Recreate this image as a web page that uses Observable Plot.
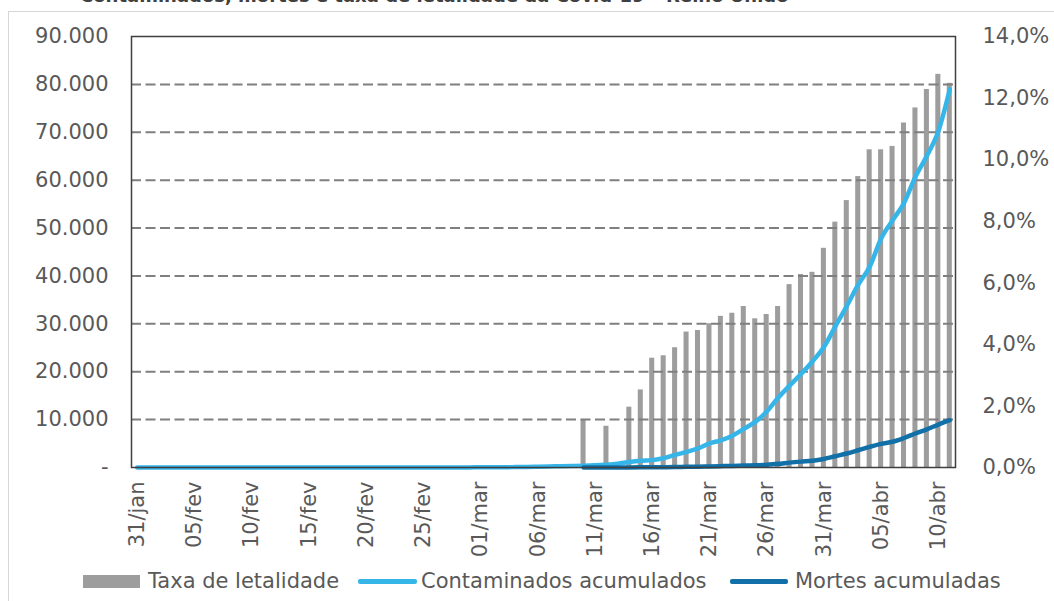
<!DOCTYPE html>
<html><head><meta charset="utf-8">
<script src="https://cdn.jsdelivr.net/npm/d3@7"></script>
<script src="https://cdn.jsdelivr.net/npm/@observablehq/plot@0.6"></script>
<style>
body{margin:0;background:#fff;width:1054px;height:601px;overflow:hidden;position:relative;font-family:"DejaVu Sans",sans-serif;}
#frame{position:absolute;left:8px;top:11px;width:1100px;height:700px;border-left:1.5px solid #d6d6d6;border-top:1.5px solid #d6d6d6;}
#title{position:absolute;left:80px;top:-15px;font-weight:bold;font-size:18px;line-height:22px;color:#404040;white-space:nowrap}
#chart{position:absolute;left:0;top:0}
.sw{position:absolute}
.lt{position:absolute;top:568px;height:26px;line-height:26px;font-size:21px;color:#595959;white-space:nowrap}
</style></head><body>
<div id="frame"></div>
<div id="title">Contaminados, mortes e taxa de letalidade da Covid-19 – Reino Unido</div>
<div id="chart"></div>
<div id="legend"></div>
<script>
const datas = ["31/jan",
"01/fev","02/fev","03/fev","04/fev","05/fev","06/fev","07/fev","08/fev","09/fev","10/fev",
"11/fev","12/fev","13/fev","14/fev","15/fev","16/fev","17/fev","18/fev","19/fev","20/fev",
"21/fev","22/fev","23/fev","24/fev","25/fev","26/fev","27/fev","28/fev","29/fev",
"01/mar","02/mar","03/mar","04/mar","05/mar","06/mar","07/mar","08/mar","09/mar","10/mar",
"11/mar","12/mar","13/mar","14/mar","15/mar","16/mar","17/mar","18/mar","19/mar","20/mar",
"21/mar","22/mar","23/mar","24/mar","25/mar","26/mar","27/mar","28/mar","29/mar","30/mar","31/mar",
"01/abr","02/abr","03/abr","04/abr","05/abr","06/abr","07/abr","08/abr","09/abr","10/abr","11/abr"];

const contaminados = [2,
2,2,2,2,2,3,3,3,3,8,
8,9,9,9,9,9,9,9,9,9,
9,9,13,13,13,13,15,20,23,
36,40,51,85,115,163,206,273,321,373,
456,590,798,1140,1391,1543,1950,2626,3269,3983,
5018,5683,6650,8077,9529,11658,14543,17089,19522,22141,25150,
29474,33718,38168,41903,47806,51608,55242,60733,65077,70200,78991];

const mortes = [null,
null,null,null,null,null,null,null,null,null,null,
null,null,null,null,null,null,null,null,null,null,
null,null,null,null,null,null,null,null,null,
null,null,null,null,null,null,null,null,null,6,
8,8,10,21,35,55,71,104,144,177,
233,281,335,422,465,578,759,1019,1228,1408,1789,
2352,2921,3605,4313,4934,5373,6159,7097,7978,8958,9875];

const taxa = [null,
null,null,null,null,null,null,null,null,null,null,
null,null,null,null,null,null,null,null,null,null,
null,null,null,null,null,null,null,null,null,
null,null,null,null,null,null,null,null,null,1.55,
null,1.34,null,1.96,2.52,3.55,3.63,3.89,4.40,4.45,
4.67,4.91,5.01,5.23,4.83,4.97,5.23,5.94,6.27,6.34,7.12,
7.97,8.67,9.45,10.32,10.32,10.43,11.19,11.68,12.28,12.77,12.48];

const ticksX = ["31/jan","05/fev","10/fev","15/fev","20/fev","25/fev","01/mar","06/mar","11/mar","16/mar","21/mar","26/mar","31/mar","05/abr","10/abr"];
const ticksEsq = [0,10000,20000,30000,40000,50000,60000,70000,80000,90000];
const ticksDir = [0,2,4,6,8,10,12,14];
const maxEsq = 90000, maxDir = 14;

const legenda = ["Taxa de letalidade","Contaminados acumulados","Mortes acumuladas"];
const cores = ["#9d9d9d","#36b5e9","#1170a8"];

const rows = datas.map((d,i)=>({data:d, cont:contaminados[i], mort:mortes[i], taxa:taxa[i]}));
const toEsq = p => p / maxDir * maxEsq;

const chart = Plot.plot({
  width:1054, height:560,
  marginLeft:131, marginRight:99, marginTop:36, marginBottom:93,
  style:{fontFamily:"DejaVu Sans", fontSize:"21px", color:"#595959", background:"transparent", overflow:"visible"},
  x:{type:"band", domain:datas, paddingInner:0.56, paddingOuter:0.28},
  y:{domain:[0,maxEsq]},
  marks:[
    Plot.barY(rows.filter(r=>r.taxa!=null), {x:"data", y:r=>toEsq(r.taxa), fill:cores[0]}),
    Plot.gridY(ticksEsq.slice(1,-1), {stroke:"#7f7f7f", strokeOpacity:1, strokeWidth:2, strokeDasharray:"10,4.5"}),
    Plot.line(rows, {x:"data", y:"cont", stroke:cores[1], strokeWidth:4.5, curve:"monotone-x"}),
    Plot.line(rows.filter(r=>r.mort!=null), {x:"data", y:"mort", stroke:cores[2], strokeWidth:4.5, curve:"monotone-x"}),
    Plot.frame({stroke:"#3f3f3f", strokeWidth:1.5}),
    Plot.axisY({ticks:ticksEsq, tickSize:0, tickPadding:23, label:null,
      tickFormat:d => d===0 ? "-" : d3.format(",")(d).replace(/,/g,".")}),
    Plot.axisY({anchor:"right", ticks:ticksDir.map(toEsq), tickSize:0, tickPadding:27, label:null,
      tickFormat:d => (d/maxEsq*maxDir).toFixed(1).replace(".",",")+"%"}),
    Plot.axisX({ticks:ticksX, tickRotate:-90, tickSize:0, tickPadding:14, label:null})
  ]
});
document.getElementById("chart").appendChild(chart);

const leg = document.getElementById("legend");
const sw = [
  {left:83, top:575, w:57, h:13},
  {left:358, top:579, w:59, h:5},
  {left:730, top:579, w:58, h:5}
];
const tx = [148, 421, 795];
legenda.forEach((t,i)=>{
  const s = document.createElement("div");
  s.className="sw";
  s.style.cssText=`left:${sw[i].left}px;top:${sw[i].top}px;width:${sw[i].w}px;height:${sw[i].h}px;background:${cores[i]};border-radius:${i?2:0}px`;
  leg.appendChild(s);
  const l = document.createElement("div");
  l.className="lt"; l.style.left = tx[i]+"px"; l.textContent = t;
  leg.appendChild(l);
});
</script>
</body></html>
